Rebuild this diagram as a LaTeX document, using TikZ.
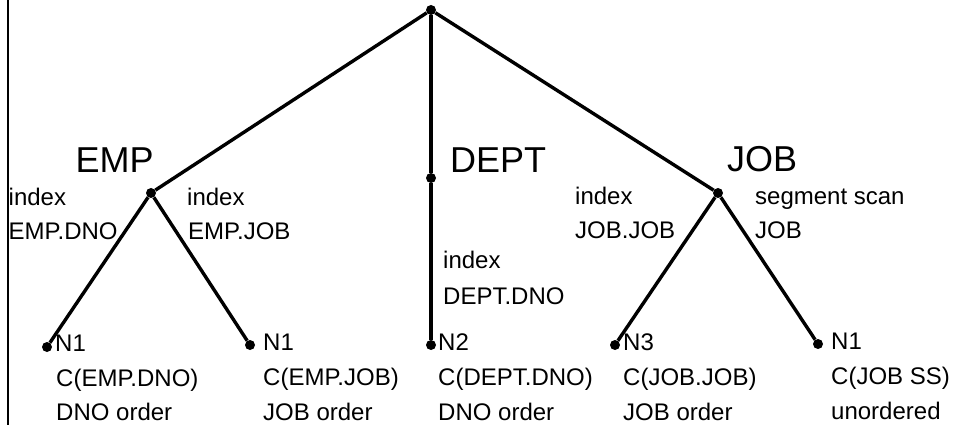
\documentclass[tikz,border=0pt]{standalone}
\usepackage{fontspec}
\setmainfont{Liberation Sans}
\begin{document}
\begin{tikzpicture}[x=1pt,y=-1pt,
  dot/.style={circle,fill=black,inner sep=0pt,minimum size=10pt},
  branch/.style={line width=3.4pt},
  small/.style={anchor=base west,inner sep=0pt,font=\fontsize{24}{28}\selectfont},
  big/.style={anchor=base west,inner sep=0pt,font=\fontsize{36}{40}\selectfont}]
\useasboundingbox (0,0) rectangle (954,425);
% left border
\coordinate (bt) at (8,0);
\coordinate (bb) at (8,425);
\draw[line width=1.8pt] (bt) -- (bb);
% dots
\node[dot] (root) at (431,10) {};
\node[dot] (emp) at (151,193) {};
\node[dot] (dept) at (431,178) {};
\node[dot] (job) at (718,193) {};
\node[dot] (l1) at (47,347) {};
\node[dot] (l2) at (250,345) {};
\node[dot] (l3) at (431,345) {};
\node[dot] (l4) at (615,345) {};
\node[dot] (l5) at (818,344) {};
% branches
\draw[branch] (root) -- (emp);
\draw[branch] (root) -- (dept);
\draw[branch] (root) -- (job);
\draw[branch] (emp) -- (l1);
\draw[branch] (emp) -- (l2);
\draw[branch] (dept) -- (l3);
\draw[branch] (job) -- (l4);
\draw[branch] (job) -- (l5);
% big labels
\node[big] (tEMP) at (75.5,173) {EMP};
\node[big] (tDEPT) at (450,173) {DEPT};
\node[big] (tJOB) at (727,172) {JOB};
% access labels
\node[small] (a1) at (8.5,206) {index};
\node[small] (a2) at (8.5,240) {EMP.DNO};
\node[small] (b1) at (187,206) {index};
\node[small] (b2) at (188,240) {EMP.JOB};
\node[small] (c1) at (443,269) {index};
\node[small] (c2) at (443,304) {DEPT.DNO};
\node[small] (d1) at (575,205) {index};
\node[small] (d2) at (575,239) {JOB.JOB};
\node[small] (e1) at (755,205) {segment scan};
\node[small] (e2) at (755,239) {JOB};
% leaf labels
\node[small] (f1) at (55,351) {N1};
\node[small] (f2) at (56,386) {C(EMP.DNO)};
\node[small] (f3) at (56,420) {DNO order};
\node[small] (g1) at (263,350) {N1};
\node[small] (g2) at (263,385) {C(EMP.JOB)};
\node[small] (g3) at (263,420) {JOB order};
\node[small] (h1) at (438,350) {N2};
\node[small] (h2) at (438,385) {C(DEPT.DNO)};
\node[small] (h3) at (438,420) {DNO order};
\node[small] (i1) at (623,350) {N3};
\node[small] (i2) at (623,385) {C(JOB.JOB)};
\node[small] (i3) at (623,420) {JOB order};
\node[small] (j1) at (831,349) {N1};
\node[small] (j2) at (831,384) {C(JOB SS)};
\node[small] (j3) at (831,419) {unordered};
\end{tikzpicture}
\end{document}
